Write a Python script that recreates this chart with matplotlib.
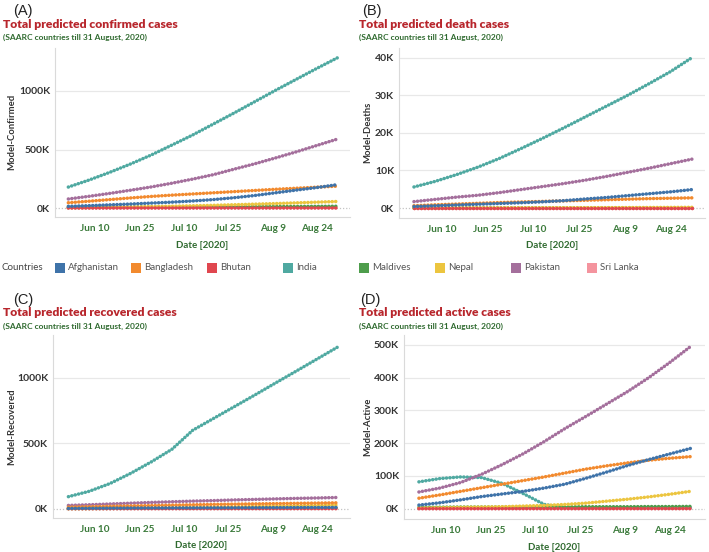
import numpy as np
import matplotlib
matplotlib.use("Agg")
import matplotlib.pyplot as plt
import matplotlib.dates as mdates
from matplotlib.patches import Rectangle
from matplotlib.ticker import FuncFormatter

# ---- data (thousands of cases), weekly readings from 1 Jun to 31 Aug 2020 ----
dates = np.arange(np.datetime64("2020-06-01"), np.datetime64("2020-09-01"), np.timedelta64(7, "D"))

countries = ["Afghanistan", "Bangladesh", "Bhutan", "India", "Maldives", "Nepal", "Pakistan", "Sri Lanka"]
colors = ["#3f73a9", "#f28a2e", "#e0474f", "#4fa9a1", "#4e9d4c", "#ecc53f", "#a46f9c", "#f4949e"]

conf_afg = [14, 20, 27, 34, 42, 50, 60, 72, 88, 107, 130, 153, 175, 200]
conf_ban = [45, 58, 72, 86, 99, 110, 120, 130, 140, 150, 160, 169, 178, 187]
conf_bhu = [0.05, 0.06, 0.07, 0.08, 0.09, 0.1, 0.1, 0.11, 0.12, 0.13, 0.14, 0.15, 0.16, 0.17]
conf_ind = [179, 239, 305, 376, 453, 538, 624, 718, 812, 909, 1006, 1100, 1194, 1285]
conf_mal = [6, 7, 7.5, 8, 8.5, 9, 10, 10.5, 11, 12, 12.5, 13, 14, 15]
conf_nep = [2, 4, 6, 9, 12, 15, 19, 23, 28, 33, 38, 44, 50, 56]
conf_pak = [77, 100, 125, 152, 180, 212, 247, 285, 332, 378, 428, 480, 535, 590]
conf_sri = [1.6, 1.8, 1.9, 2.0, 2.1, 2.2, 2.3, 2.4, 2.5, 2.6, 2.7, 2.8, 2.9, 3.0]

death_afg = [0.4, 0.6, 0.8, 1.0, 1.2, 1.4, 1.65, 1.95, 2.4, 2.8, 3.3, 3.8, 4.3, 4.9]
death_ban = [0.6, 0.85, 1.05, 1.25, 1.45, 1.6, 1.75, 1.9, 2.05, 2.2, 2.35, 2.5, 2.6, 2.7]
death_bhu = [0, 0, 0, 0, 0, 0, 0, 0, 0, 0, 0, 0, 0, 0]
death_ind = [5.6, 7.1, 8.9, 10.9, 13.2, 15.8, 18.5, 21.3, 24.2, 27.1, 30.0, 33.1, 36.3, 40.0]
death_mal = [0.01, 0.01, 0.01, 0.02, 0.02, 0.02, 0.02, 0.02, 0.02, 0.03, 0.03, 0.03, 0.03, 0.03]
death_nep = [0.01, 0.02, 0.03, 0.04, 0.05, 0.06, 0.07, 0.08, 0.09, 0.1, 0.12, 0.14, 0.16, 0.18]
death_pak = [1.7, 2.3, 2.9, 3.4, 4.1, 4.9, 5.7, 6.5, 7.4, 8.4, 9.5, 10.6, 11.8, 13.0]
death_sri = [0.01, 0.01, 0.01, 0.01, 0.01, 0.01, 0.01, 0.01, 0.01, 0.01, 0.01, 0.01, 0.01, 0.01]

rec_afg = [2, 3, 4, 5, 5.5, 6, 6.5, 7, 7.5, 8, 8.5, 9, 9.5, 10]
rec_ban = [12, 15, 18, 21, 24, 27, 30, 33, 35, 37, 39, 41, 43, 45]
rec_bhu = [0.03, 0.04, 0.05, 0.06, 0.07, 0.08, 0.09, 0.1, 0.11, 0.12, 0.13, 0.14, 0.15, 0.16]
rec_ind = [92, 133, 192, 270, 358, 455, 600, 690, 780, 870, 962, 1053, 1145, 1237]
rec_mal = [1, 1.5, 2, 2.5, 3, 3.5, 4, 4.5, 5, 5.5, 6, 6.5, 7, 7.5]
rec_nep = [0.5, 1, 2, 3, 5, 7, 9, 11, 14, 17, 19, 22, 25, 28]
rec_pak = [25, 30, 36, 42, 48, 53, 58, 62, 67, 71, 75, 79, 82, 86]
rec_sri = [1, 1.2, 1.4, 1.6, 1.8, 2.0, 2.1, 2.2, 2.3, 2.4, 2.5, 2.6, 2.8, 3.0]

act_afg = [11, 18, 27, 37, 45, 53, 63, 75, 93, 112, 132, 150, 167, 184]
act_ban = [32, 42, 53, 64, 75, 86, 97, 109, 121, 131, 140, 148, 154, 159]
act_bhu = [0.02, 0.02, 0.03, 0.03, 0.03, 0.04, 0.04, 0.04, 0.05, 0.05, 0.05, 0.06, 0.06, 0.06]
act_ind = [82, 92, 97, 95, 77, 46, 13, 3, 3, 3, 3, 3, 3, 3]
act_mal = [4, 4.5, 5, 5, 5, 5.5, 5.5, 5.5, 6, 6, 6, 6.5, 6.5, 7]
act_nep = [2, 3, 4, 5, 6, 8, 10, 13, 17, 23, 29, 36, 44, 53]
act_pak = [51, 63, 80, 105, 135, 168, 205, 245, 282, 320, 358, 400, 446, 495]
act_sri = [0.5, 0.5, 0.5, 0.6, 0.6, 0.6, 0.6, 0.7, 0.7, 0.7, 0.7, 0.8, 0.8, 0.8]

tick_dates = np.array(["2020-06-10", "2020-06-25", "2020-07-10", "2020-07-25", "2020-08-09", "2020-08-24"], dtype="datetime64[D]")
tick_labels = ["Jun 10", "Jun 25", "Jul 10", "Jul 25", "Aug 9", "Aug 24"]

RED = "#b8262c"
GREEN = "#2f6a2f"
TICKGREEN = "#3a7a3a"
DARK = "#333333"

W, H = 709, 552
fig = plt.figure(figsize=(W / 100, H / 100), dpi=100)


def fx(px):
    return px / W


def fy(py):
    return 1 - py / H


# zorder: Afghanistan on top, India beneath the others
zorders = [9, 8, 7, 2, 4, 5, 6, 3]

panels = [
    dict(letter="(A)", title="Total predicted confirmed cases", ylabel="Model-Confirmed",
         series=[conf_afg, conf_ban, conf_bhu, conf_ind, conf_mal, conf_nep, conf_pak, conf_sri],
         box=(55, 350, 48, 217), ylim=(-76.9, 1367.5), xlim=(-4.5, 95.15), yticks=[0, 500, 1000],
         lx=13, tx=3, ty=0, ylx=12, ycy=132),
    dict(letter="(B)", title="Total predicted death cases", ylabel="Model-Deaths",
         series=[death_afg, death_ban, death_bhu, death_ind, death_mal, death_nep, death_pak, death_sri],
         box=(399, 705, 48, 218), ylim=(-2.66, 42.58), xlim=(-4.9, 95.3), yticks=[0, 10, 20, 30, 40],
         lx=362, tx=359, ty=0, ylx=368, ycy=132),
    dict(letter="(C)", title="Total predicted recovered cases", ylabel="Model-Recovered",
         series=[rec_afg, rec_ban, rec_bhu, rec_ind, rec_mal, rec_nep, rec_pak, rec_sri],
         box=(53, 350, 335, 518), ylim=(-71.2, 1329), xlim=(-5.2, 95.15), yticks=[0, 500, 1000],
         lx=13, tx=3, ty=289, ylx=12, ycy=427),
    dict(letter="(D)", title="Total predicted active cases", ylabel="Model-Active",
         series=[act_afg, act_ban, act_bhu, act_ind, act_mal, act_nep, act_pak, act_sri],
         box=(404, 705, 335, 519), ylim=(-31.5, 530.5), xlim=(-5.0, 95.9), yticks=[0, 100, 200, 300, 400, 500],
         lx=360, tx=359, ty=289, ylx=368, ycy=427),
]

start = mdates.date2num(np.datetime64("2020-06-01"))
xdates = mdates.date2num(dates)

for p in panels:
    l, r, t, b = p["box"]
    ax = fig.add_axes([fx(l), fy(b), fx(r - l), (b - t) / H])
    for vals, c, z in zip(p["series"], colors, zorders):
        ax.plot(xdates, vals, color=c, lw=2.5, linestyle=(0, (0.05, 0.95)),
                dash_capstyle="round", zorder=z)
    ax.set_xlim(start + p["xlim"][0], start + p["xlim"][1])
    ax.set_ylim(*p["ylim"])
    ax.set_yticks(p["yticks"])
    ax.yaxis.set_major_formatter(FuncFormatter(lambda v, pos: f"{v:.0f}K"))
    ax.set_xticks(mdates.date2num(tick_dates))
    ax.set_xticklabels(tick_labels)
    for yv in p["yticks"][1:]:
        ax.axhline(yv, color="#e8e8e8", lw=0.9, zorder=0)
    ax.axhline(0, color="#c4c4c4", lw=0.9, linestyle=(0, (1, 1.5)), zorder=0)
    for s in ["top", "right"]:
        ax.spines[s].set_visible(False)
    for s in ["left", "bottom"]:
        ax.spines[s].set_color("#dadada")
        ax.spines[s].set_linewidth(0.8)
    ax.tick_params(axis="both", length=0)
    ax.tick_params(axis="y", pad=3.5, labelsize=7.5, labelcolor=DARK)
    ax.tick_params(axis="x", pad=5, labelsize=7.2, labelcolor=TICKGREEN)
    for lab in ax.get_yticklabels() + ax.get_xticklabels():
        lab.set_fontweight("bold")
        lab.set_family("Lato")

    ty = p["ty"]
    fig.text(fx(p["lx"]), fy(ty + 11), p["letter"], family="Liberation Sans", fontsize=10.5,
             color="#222222", va="center", ha="left")
    fig.text(fx(p["tx"]), fy(ty + 24), p["title"], family="Lato", fontweight="heavy",
             fontsize=8.7, color=RED, va="center", ha="left")
    fig.text(fx(p["tx"]), fy(ty + 37), "(SAARC countries till 31 August, 2020)", family="Lato",
             fontweight="bold", fontsize=6.0, color=GREEN, va="center", ha="left")
    fig.text(fx(p["ylx"]), fy(p["ycy"]), p["ylabel"], family="Lato", fontweight="bold",
             fontsize=6.8, color=DARK, rotation=90, va="center", ha="center")
    fig.text(fx((l + r) / 2), fy(b + 28), "Date [2020]", family="Lato", fontweight="bold",
             fontsize=7, color=GREEN, va="center", ha="center")

# legend row
fig.text(fx(2), fy(268), "Countries", family="Lato", fontsize=7, color="#444444", va="center", ha="left")
for i, (name, c) in enumerate(zip(countries, colors)):
    x0 = 55 + 76 * i
    fig.patches.append(Rectangle((fx(x0), fy(273)), fx(10), 10 / H, transform=fig.transFigure,
                                 facecolor=c, edgecolor="none"))
    fig.text(fx(x0 + 13), fy(268), name, family="Lato", fontsize=7, color="#555555",
             va="center", ha="left")

fig.savefig("out.png", dpi=100)
